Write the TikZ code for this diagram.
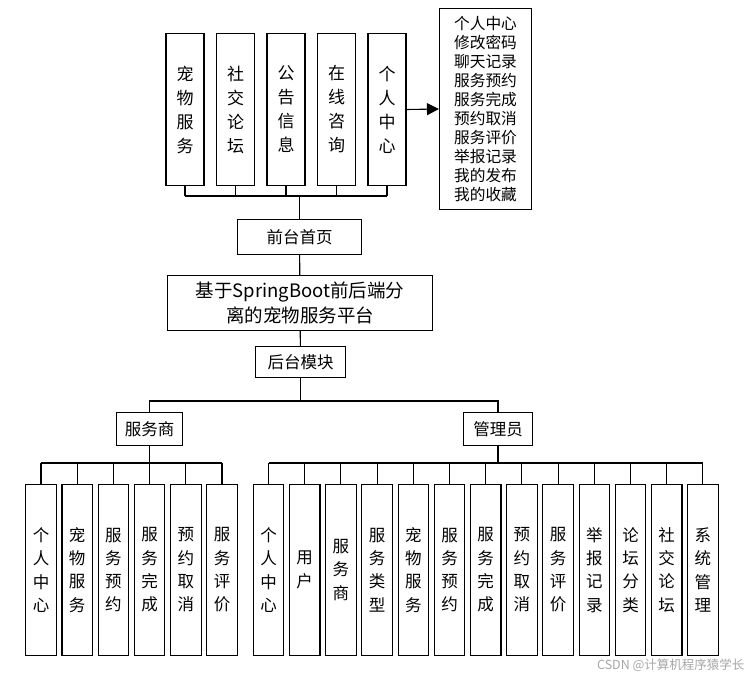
\documentclass[tikz,border=0pt]{standalone}
\usepackage{fontspec}
\setmainfont{Noto Sans CJK SC}
\usetikzlibrary{arrows.meta,positioning}

\begin{document}
\begin{tikzpicture}[x=1pt, y=-1pt,
    % --- Box styles ---
    box/.style={draw, line width=1.1pt, inner sep=2pt, align=center,
                font=\fontsize{16.5}{19}\selectfont},
    front/.style={box, minimum width=38pt, minimum height=152pt,
                  font=\fontsize{17}{24}\selectfont},
    leaf/.style={box, minimum width=30.5pt, minimum height=171pt,
                 font=\fontsize{16.5}{23.3}\selectfont},
    % --- Line styles ---
    link/.style={line width=1.1pt},
    flow/.style={link, -{Triangle[length=12pt, width=12pt]}},
]
\useasboundingbox (0,0) rectangle (753,680);

% === Front-end modules ===
\node[front]                    (pet)     at (185,109.5) {宠\\物\\服\\务};
\node[front, right=11.4pt of pet]     (forum)   {社\\交\\论\\坛};
\node[front, right=11.4pt of forum]   (notice)  {公\\告\\信\\息};
\node[front, right=11.4pt of notice]  (consult) {在\\线\\咨\\询};
\node[front, right=11.4pt of consult] (center)  {个\\人\\中\\心};

% === Personal centre items ===
\node[box, minimum width=92pt, minimum height=201pt, align=left,
      font=\fontsize{15.7}{19}\selectfont] (menu) at (485.5,109)
  {个人中心\\修改密码\\聊天记录\\服务预约\\服务完成\\预约取消\\服务评价\\举报记录\\我的发布\\我的收藏};
\draw[flow] (center.east) -- (menu.west);

% === Core column ===
\node[box, minimum width=124pt, minimum height=35pt] (home) at (299.5,237) {前台首页};
\node[box, minimum width=265pt, minimum height=55pt,
      font=\fontsize{18.5}{25}\selectfont] (system) at (300,303)
  {基于SpringBoot前后端分\\离的宠物服务平台};
\node[box, minimum width=90pt, minimum height=31pt] (backend) at (300.5,362) {后台模块};

% front bus
\coordinate (frontbus) at (299.5,196);
\foreach \n in {pet,forum,notice,consult,center}
  \draw[link] (\n.south) -- (\n.south |- frontbus);
\draw[link] (pet.south |- frontbus) -- (center.south |- frontbus);
\draw[link] (frontbus) -- (home.north);
\draw[link] (home) -- (system);
\draw[link] (system) -- (backend);

% === Roles ===
\node[box, minimum width=66pt, minimum height=33pt] (vendor) at (149.5,429) {服务商};
\node[box, minimum width=69pt, minimum height=33pt] (admin)  at (498,429)   {管理员};
\coordinate (rolebus) at (300.5,401);
\draw[link] (backend.south) -- (rolebus);
\draw[link] (vendor.north) |- (rolebus) -| (admin.north);

% === Service provider leaves ===
\node[leaf]                (v1) at (41,570) {个\\人\\中\\心};
\node[leaf, right=4.6pt of v1] (v2) {宠\\物\\服\\务};
\node[leaf, right=4.6pt of v2] (v3) {服\\务\\预\\约};
\node[leaf, right=4.6pt of v3] (v4) {服\\务\\完\\成};
\node[leaf, right=4.6pt of v4] (v5) {预\\约\\取\\消};
\node[leaf, right=4.6pt of v5] (v6) {服\\务\\评\\价};

\coordinate (vbus) at (149.5,463);
\draw[link] (vendor.south) -- (vbus);
\foreach \i in {1,...,6}
  \draw[link] (v\i.north) -- (v\i.north |- vbus);
\draw[link] (v1.north |- vbus) -- (v6.north |- vbus);

% === Administrator leaves ===
\node[leaf]                  (a1)  at (268.5,570) {个\\人\\中\\心};
\node[leaf, right=4.6pt of a1]  (a2)  {用\\户};
\node[leaf, right=4.6pt of a2]  (a3)  {服\\务\\商};
\node[leaf, right=4.6pt of a3]  (a4)  {服\\务\\类\\型};
\node[leaf, right=4.6pt of a4]  (a5)  {宠\\物\\服\\务};
\node[leaf, right=4.6pt of a5]  (a6)  {服\\务\\预\\约};
\node[leaf, right=4.6pt of a6]  (a7)  {服\\务\\完\\成};
\node[leaf, right=4.6pt of a7]  (a8)  {预\\约\\取\\消};
\node[leaf, right=4.6pt of a8]  (a9)  {服\\务\\评\\价};
\node[leaf, right=4.6pt of a9]  (a10) {举\\报\\记\\录};
\node[leaf, right=4.6pt of a10] (a11) {论\\坛\\分\\类};
\node[leaf, right=4.6pt of a11] (a12) {社\\交\\论\\坛};
\node[leaf, right=4.6pt of a12] (a13) {系\\统\\管\\理};

\coordinate (abus) at (498,463);
\draw[link] (admin.south) -- (abus);
\foreach \i in {1,...,13}
  \draw[link] (a\i.north) -- (a\i.north |- abus);
\draw[link] (a1.north |- abus) -- (a13.north |- abus);

% === Watermark ===
\node[anchor=east, text=black!35, font=\fontsize{12.5}{14}\selectfont]
  (mark) at (748,665) {CSDN @计算机程序猿学长};

\end{tikzpicture}
\end{document}
